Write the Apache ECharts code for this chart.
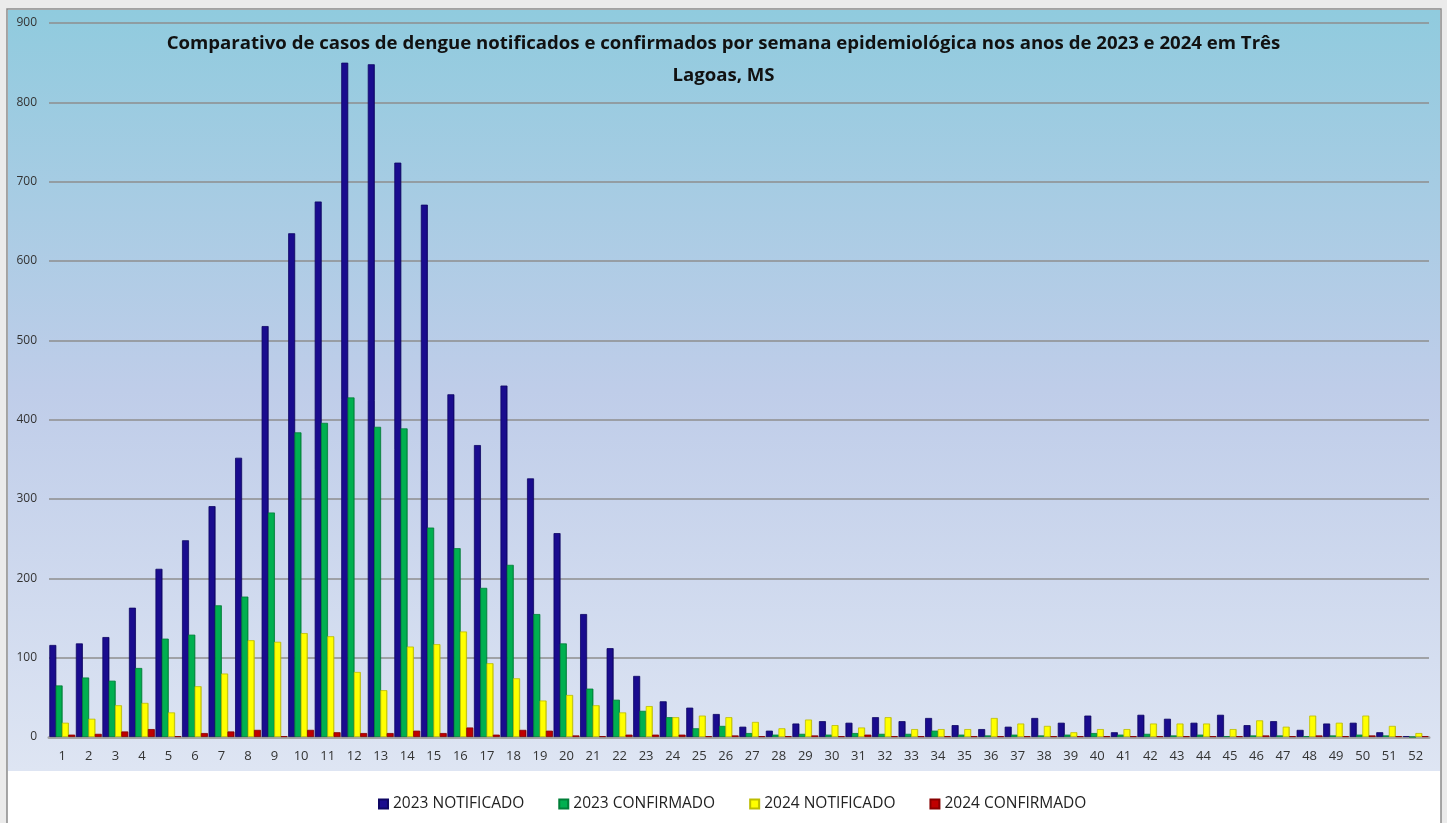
<html>

	<head>
		<meta charset="utf-8" />
		<title>Dengue Três Lagoas</title>
		<script type="text/javascript" src="https://cdn.jsdelivr.net/npm/echarts/dist/echarts.min.js"></script>
		<style>
			html,
			body {
				padding: 0;
				margin: 0;
				height: 100%;
				width: 100%;
				background-color: #ebebeb;
			}
			#main {
				width: 1447px;
				height: 823px;
			}
		</style>
	</head>

	<body>
		<div id="main"></div>

		<script type="text/javascript">
			// semanas epidemiológicas
			var semanas = [];
			for (var i = 1; i <= 52; i++) semanas.push(String(i));

			var notificado2023 = [116, 118, 126, 163, 212, 248, 291, 352, 518, 635, 675, 850, 848, 724, 671, 432, 368, 443, 326, 257, 155, 112, 77, 45, 37, 29, 13, 8, 17, 20, 18, 25, 20, 24, 15, 10, 13, 24, 18, 27, 6, 28, 23, 18, 28, 15, 20, 9, 17, 18, 6, 1];
			var confirmado2023 = [65, 75, 71, 87, 124, 129, 166, 177, 283, 384, 396, 428, 391, 389, 264, 238, 188, 217, 155, 118, 61, 47, 33, 25, 11, 14, 5, 3, 4, 3, 5, 4, 4, 8, 3, 2, 3, 2, 3, 5, 3, 4, 2, 3, 1, 2, 2, 1, 2, 3, 2, 0];
			var notificado2024 = [18, 23, 40, 43, 31, 64, 80, 122, 120, 131, 127, 82, 59, 114, 117, 133, 93, 74, 46, 53, 40, 31, 39, 25, 27, 25, 19, 11, 22, 15, 12, 25, 10, 10, 10, 24, 17, 14, 6, 10, 10, 17, 17, 17, 10, 21, 13, 27, 18, 27, 14, 5];
			var confirmado2024 = [3, 4, 7, 10, 1, 5, 7, 9, 1, 9, 6, 5, 5, 8, 5, 12, 3, 9, 8, 2, 1, 3, 3, 3, 1, 2, 1, 1, 2, 1, 3, 1, 1, 1, 1, 1, 1, 1, 1, 1, 1, 1, 1, 1, 1, 2, 1, 2, 1, 2, 1, 1];

			var fonte = "'Open Sans', sans-serif";

			function barra(nome, dados, cor, borda) {
				return {
					name: nome,
					type: 'bar',
					data: dados,
					barWidth: 7,
					barGap: '-10%',
					itemStyle: {
						color: new echarts.graphic.LinearGradient(0, 0, 1, 0, [
							{ offset: 0, color: cor },
							{ offset: 0.75, color: cor },
							{ offset: 1, color: borda }
						]),
						borderColor: borda,
						borderWidth: 0.8
					}
				};
			}

			var mychart = echarts.init(document.getElementById('main'));
			var option = {
				animation: false,
				textStyle: { fontFamily: fonte },
				graphic: [{
					type: 'rect',
					z: -10,
					shape: { x: 7, y: 9, width: 1434, height: 830 },
					style: { fill: '#ffffff', stroke: '#8a8a8a', lineWidth: 1.5 }
				}, {
					type: 'rect',
					z: -9,
					shape: { x: 8, y: 10, width: 1432, height: 761 },
					style: {
						fill: new echarts.graphic.LinearGradient(0, 0, 0, 1, [
							{ offset: 0, color: '#90cbde' },
							{ offset: 0.5, color: '#bfcde9' },
							{ offset: 1, color: '#dee5f3' }
						])
					}
				}],
				title: {
					text: 'Comparativo de casos de dengue notificados e confirmados por semana epidemiológica nos anos de 2023 e 2024 em Três\nLagoas, MS',
					left: 'center',
					top: 23,
					textStyle: {
						fontFamily: fonte,
						fontSize: 18.6,
						fontWeight: 'bold',
						color: '#111',
						lineHeight: 32
					}
				},
				legend: {
					bottom: 6,
					left: 373,
					icon: 'rect',
					itemWidth: 9,
					itemHeight: 9,
					itemGap: 34,
					textStyle: { fontFamily: fonte, fontSize: 15.5, color: '#222' },
					data: ['2023 NOTIFICADO', '2023 CONFIRMADO', '2024 NOTIFICADO', '2024 CONFIRMADO']
				},
				grid: {
					left: 49,
					right: 18,
					top: 23,
					bottom: 86
				},
				xAxis: {
					type: 'category',
					data: semanas,
					axisTick: { show: false },
					axisLine: { lineStyle: { color: '#a5a5a5', width: 3 } },
					axisLabel: { color: '#333', fontSize: 13, margin: 13 }
				},
				yAxis: {
					type: 'value',
					min: 0,
					max: 900,
					interval: 100,
					axisLabel: { color: '#333', fontSize: 12, margin: 12 },
					splitLine: { lineStyle: { color: '#8e8e8e', width: 1.5 } }
				},
				series: [
					barra('2023 NOTIFICADO', notificado2023, '#1a0c8e', '#0e0664'),
					barra('2023 CONFIRMADO', confirmado2023, '#00b050', '#007f38'),
					barra('2024 NOTIFICADO', notificado2024, '#ffff00', '#bdbd00'),
					barra('2024 CONFIRMADO', confirmado2024, '#c00000', '#880000')
				]
			};
			mychart.setOption(option);
		</script>
	</body>

</html>
